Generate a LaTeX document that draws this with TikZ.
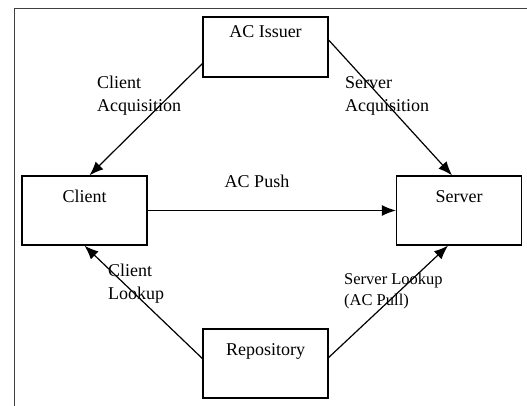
\documentclass[tikz,border=0pt]{standalone}
\usepackage{fontspec}
\setmainfont{Liberation Serif}
\usepackage{tikz}
\usetikzlibrary{arrows.meta, calc, positioning}

\begin{document}
\begin{tikzpicture}[
    x=1pt, y=-1pt,
    font=\fontsize{18}{23}\selectfont,
    block/.style={rectangle, draw, line width=1.3pt, minimum width=125pt, inner sep=4pt, text height=22pt, text depth=39pt},
    note/.style={align=left, inner sep=0pt, anchor=base west},
    line/.style={draw, line width=1.2pt, -{Latex[length=14pt, width=11pt]}},
    frame/.style={draw, line width=0.8pt, black!75}
]
    \useasboundingbox (0,0) rectangle (527,406);

    % Frame (only top and left edges show)
    \coordinate (corner) at (14,8);
    \draw [frame] (527,8) -- (corner) -- (14,406);

    % Nodes
    \node [block] (client) at (84.5,210.5) {Client};
    \node [block, right of=client, node distance=374.5pt] (server) {Server};
    \node [block, text height=17pt, text depth=35pt] (issuer) at (265.5,47) {AC Issuer};
    \node [block, below of=issuer, node distance=316.5pt] (repo) {Repository};

    % Labels
    \node [note] (clacq) at (97,112) {Client\\Acquisition};
    \node [note] (svacq) at (345,112) {Server\\Acquisition};
    \node [anchor=base, inner sep=0pt] (push) at (257,187) {AC Push};
    \node [note] (cllook) at (108,299) {Client\\Lookup};
    \node [note, font=\fontsize{16.5}{21}\selectfont] (svlook) at (344,305) {Server Lookup\\(AC Pull)};

    % Connections
    % Issuer to both ends
    \draw [line] ([yshift=14pt]issuer.south west) -- ([xshift=5pt]client.north);
    \draw [line] ([yshift=7pt]issuer.east) -- ([xshift=-7pt]server.north);

    % Push from client to server
    \draw [line] (client.east) -- (server.west);

    % Lookups from repository
    \draw [line] ([yshift=5pt]repo.west) -- (client.south);
    \draw [line] ([yshift=6pt]repo.east) -- ([xshift=-11pt]server.south);

\end{tikzpicture}
\end{document}
